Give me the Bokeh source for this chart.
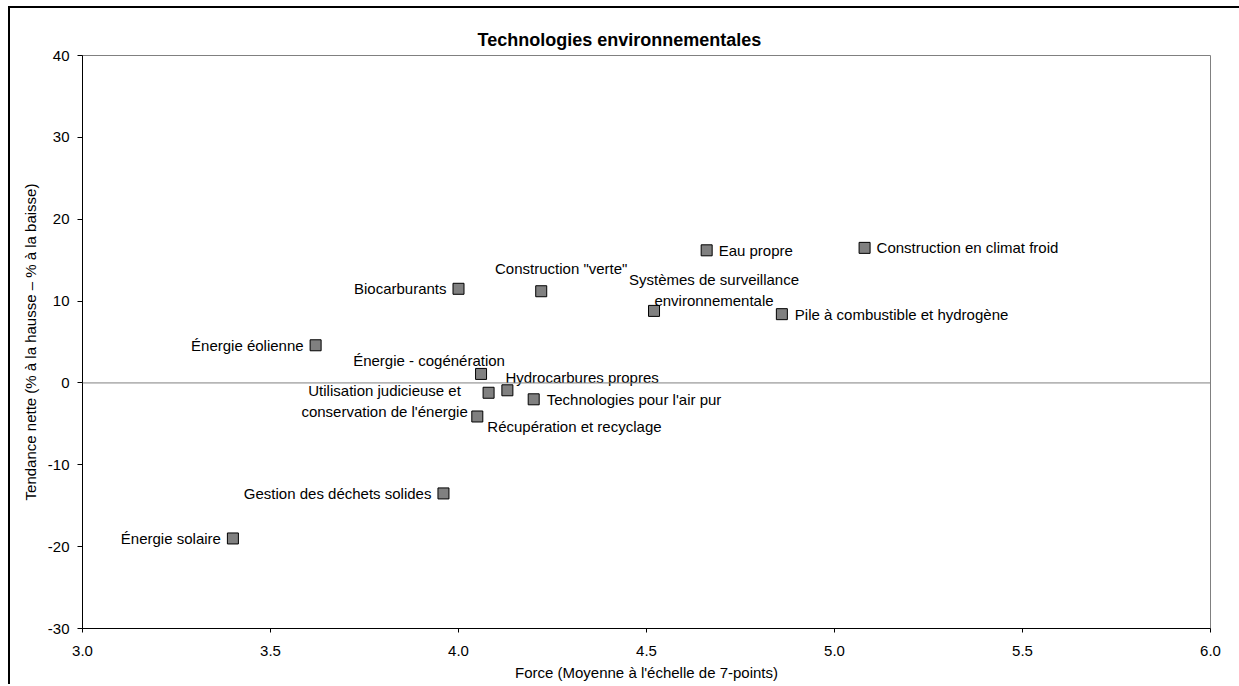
from bokeh.plotting import figure
from bokeh.models import Range1d, FixedTicker, PrintfTickFormatter, Span, ColumnDataSource
from bokeh.core.properties import value
from bokeh.embed import file_html
from bokeh.resources import INLINE

# ---- data ----
names = [
    "Énergie solaire",
    "Gestion des déchets solides",
    "Énergie éolienne",
    "Biocarburants",
    "Énergie - cogénération",
    "Utilisation judicieuse et\nconservation de l'énergie",
    "Hydrocarbures propres",
    "Technologies pour l'air pur",
    "Récupération et recyclage",
    'Construction "verte"',
    "Systèmes de surveillance\nenvironnementale",
    "Eau propre",
    "Pile à combustible et hydrogène",
    "Construction en climat froid",
]
force = [3.40, 3.96, 3.62, 4.00, 4.06, 4.08, 4.13, 4.20, 4.05, 4.22, 4.52, 4.66, 4.86, 5.08]
tendance = [-19.0, -13.5, 4.6, 11.5, 1.1, -1.2, -0.9, -2.0, -4.1, 11.2, 8.8, 16.2, 8.4, 16.5]

x_ticks = [3.0, 3.5, 4.0, 4.5, 5.0, 5.5, 6.0]
y_ticks = [-30, -20, -10, 0, 10, 20, 30, 40]

title_text = "Technologies environnementales"
x_title = "Force (Moyenne à l'échelle de 7-points)"
y_title = "Tendance nette (% à la hausse – % à la baisse)"

# ---- label placement (screen px, y down) ----
lab_dx = [-12, -12, -12, -12, -52, -104, -2, 13, 10, 20, 60, 12, 13, 12]
lab_dy = [0, 0, 0, 0, -13, 8, -13, 0, 10, -23, -21, 0, 0, 0]
lab_align = ["right", "right", "right", "right", "center", "center", "left",
             "left", "left", "center", "center", "left", "left", "left"]

FONT = "Liberation Sans"

src = ColumnDataSource(dict(x=force, y=tendance, name=names, dx=lab_dx, dy=lab_dy, align=lab_align))

p = figure(
    x_range=Range1d(3, 6), y_range=Range1d(-30, 40),
    frame_width=1128, frame_height=573,
    min_border_left=72, min_border_right=29, min_border_top=47, min_border_bottom=56,
    output_backend="svg", toolbar_location=None,
)
p.styles = {"border-left": "2px solid black", "border-top": "2px solid black",
            "margin-left": "8px", "margin-top": "6px"}

p.title.text = title_text
p.title.align = "left"
p.title.offset = 395
p.title.text_font = FONT
p.title.text_font_size = "18px"
p.title.text_font_style = "bold"
p.title.text_color = "black"
p.title.standoff = 11

p.xgrid.visible = False
p.ygrid.visible = False
p.outline_line_color = "#808080"
p.outline_line_width = 1
p.background_fill_color = "white"
p.border_fill_color = "white"

for ax in (p.xaxis[0], p.yaxis[0]):
    ax.axis_line_color = "black"
    ax.major_tick_line_color = "black"
    ax.minor_tick_line_color = None
    ax.major_tick_in = 0
    ax.major_label_text_font = FONT
    ax.major_label_text_font_size = "15px"
    ax.major_label_text_color = "black"
    ax.axis_label_text_font = FONT
    ax.axis_label_text_font_size = "15px"
    ax.axis_label_text_font_style = "normal"
    ax.axis_label_text_color = "black"

p.xaxis[0].ticker = FixedTicker(ticks=x_ticks)
p.xaxis[0].formatter = PrintfTickFormatter(format="%.1f")
p.xaxis[0].major_tick_out = 4
p.xaxis[0].major_label_standoff = 13
p.xaxis[0].axis_label = x_title
p.xaxis[0].axis_label_standoff = 5

p.yaxis[0].ticker = FixedTicker(ticks=y_ticks)
p.yaxis[0].formatter = PrintfTickFormatter(format="%d")
p.yaxis[0].major_tick_out = 5
p.yaxis[0].major_label_standoff = 8
p.yaxis[0].axis_label = y_title
p.yaxis[0].axis_label_standoff = 6

p.add_layout(Span(location=0, dimension="width", line_color="#808080", line_width=1))

p.scatter("x", "y", source=src, marker="square", size=11,
          fill_color="#808080", line_color="black", line_width=1)

p.text("x", "y", text="name", source=src, x_offset="dx", y_offset="dy",
       text_align="align", text_baseline="middle",
       text_font=value(FONT), text_font_size="15px", text_color="black",
       text_line_height=1.25)

open("out.html", "w").write(file_html(p, INLINE))
